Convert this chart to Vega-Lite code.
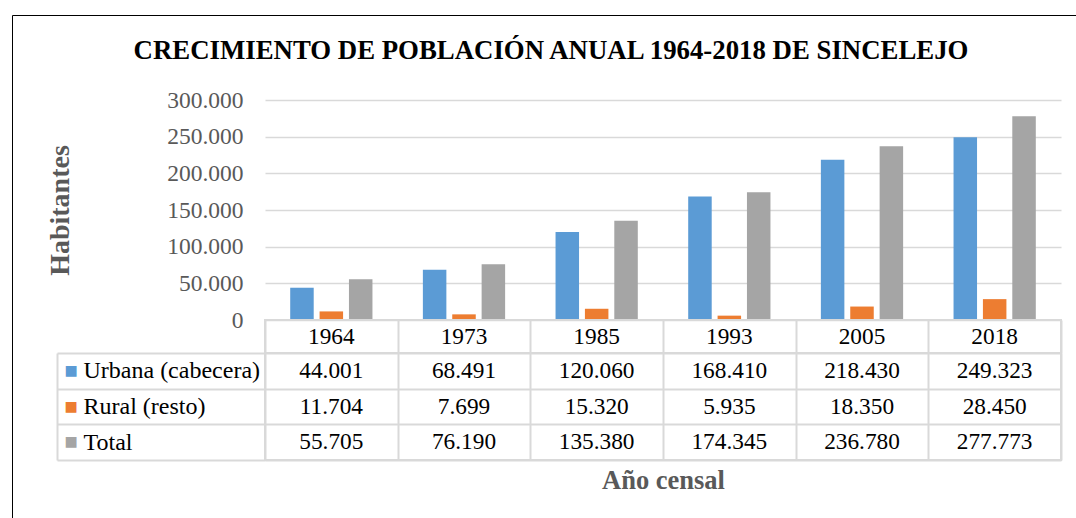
{
  "$schema": "https://vega.github.io/schema/vega-lite/v6.json",
  "datasets": {
    "d": [
      {"year": "1964", "serie": "Urbana (cabecera)", "value": 44001},
      {"year": "1964", "serie": "Rural (resto)", "value": 11704},
      {"year": "1964", "serie": "Total", "value": 55705},
      {"year": "1973", "serie": "Urbana (cabecera)", "value": 68491},
      {"year": "1973", "serie": "Rural (resto)", "value": 7699},
      {"year": "1973", "serie": "Total", "value": 76190},
      {"year": "1985", "serie": "Urbana (cabecera)", "value": 120060},
      {"year": "1985", "serie": "Rural (resto)", "value": 15320},
      {"year": "1985", "serie": "Total", "value": 135380},
      {"year": "1993", "serie": "Urbana (cabecera)", "value": 168410},
      {"year": "1993", "serie": "Rural (resto)", "value": 5935},
      {"year": "1993", "serie": "Total", "value": 174345},
      {"year": "2005", "serie": "Urbana (cabecera)", "value": 218430},
      {"year": "2005", "serie": "Rural (resto)", "value": 18350},
      {"year": "2005", "serie": "Total", "value": 236780},
      {"year": "2018", "serie": "Urbana (cabecera)", "value": 249323},
      {"year": "2018", "serie": "Rural (resto)", "value": 28450},
      {"year": "2018", "serie": "Total", "value": 277773}
    ]
  },
  "title": {
    "text": "CRECIMIENTO DE POBLACIÓN ANUAL 1964-2018 DE SINCELEJO",
    "font": "Liberation Serif",
    "fontSize": 26.8,
    "fontWeight": "bold",
    "color": "#000000",
    "anchor": "middle",
    "offset": -51.5,
    "dx": -111
  },
  "autosize": {"type": "none"},
  "padding": {"left": 265, "top": 100, "right": 811, "bottom": 418},
  "spacing": 0,
  "bounds": "flush",
  "resolve": {"scale": {"x": "independent", "y": "independent", "color": "independent"}, "legend": {"color": "independent"}},
  "config": {
    "locale": {"number": {"decimal": ",", "thousands": ".", "grouping": [3], "currency": ["$", ""]}},
    "font": "Liberation Serif",
    "view": {"stroke": null},
    "axis": {"labelFont": "Liberation Serif", "titleFont": "Liberation Serif"}
  },
  "vconcat": [
    {
      "width": 796,
      "height": 220,
      "data": {"name": "d"},
      "mark": {"type": "bar"},
      "encoding": {
        "x": {"field": "year", "type": "nominal", "scale": {"paddingInner": 0.38, "paddingOuter": 0.19}, "axis": null},
        "xOffset": {"field": "serie", "type": "nominal", "sort": ["Urbana (cabecera)", "Rural (resto)", "Total"], "scale": {"paddingInner": 0.2}},
        "y": {
          "field": "value", "type": "quantitative",
          "scale": {"domain": [0, 300000], "nice": false},
          "axis": {
            "values": [0, 50000, 100000, 150000, 200000, 250000, 300000],
            "format": ",d",
            "title": "Habitantes",
            "grid": true, "gridColor": "#d9d9d9", "gridWidth": 1.5,
            "domain": false, "ticks": false,
            "labelFontSize": 23.5, "labelColor": "#595959", "labelPadding": 22,
            "titleFontSize": 28, "titleFontWeight": "bold", "titleColor": "#595959", "titlePadding": 92
          }
        },
        "color": {
          "field": "serie", "type": "nominal",
          "scale": {"domain": ["Urbana (cabecera)", "Rural (resto)", "Total"], "range": ["#5B9BD5", "#ED7D31", "#A5A5A5"]},
          "legend": null
        }
      }
    },
    {
      "width": 796,
      "height": 33,
      "data": {"name": "d"},
      "transform": [{"filter": "datum.serie === 'Total'"}],
      "mark": {"type": "text", "fontSize": 23.3, "font": "Liberation Serif", "color": "#000000"},
      "encoding": {
        "x": {
          "field": "year", "type": "nominal",
          "scale": {"type": "band", "paddingInner": 0, "paddingOuter": 0},
          "axis": {"tickBand": "extent", "grid": true, "gridColor": "#d9d9d9", "gridWidth": 2, "labels": false, "ticks": false, "domain": false, "title": null}
        },
        "text": {"field": "year"}
      },
      "view": {"stroke": "#d9d9d9", "strokeWidth": 2}
    },
    {
      "width": 796,
      "height": 107,
      "data": {"name": "d"},
      "layer": [
        {
          "mark": {"type": "text", "fontSize": 23.3, "font": "Liberation Serif", "color": "#000000"},
          "encoding": {
            "x": {
              "field": "year", "type": "nominal",
              "scale": {"type": "band", "paddingInner": 0, "paddingOuter": 0},
              "axis": {"tickBand": "extent", "grid": true, "gridColor": "#d9d9d9", "gridWidth": 2, "labels": false, "ticks": false, "domain": false,
                "title": "Año censal", "titleFontSize": 26.5, "titleFontWeight": "bold", "titleColor": "#595959", "titlePadding": 7}
            },
            "y": {
              "field": "serie", "type": "nominal",
              "scale": {"type": "band", "domain": ["Urbana (cabecera)", "Rural (resto)", "Total"], "paddingInner": 0, "paddingOuter": 0},
              "axis": {"tickBand": "extent", "grid": true, "gridColor": "#d9d9d9", "gridWidth": 2,
                "ticks": true, "tickSize": 208, "tickColor": "#d9d9d9", "tickWidth": 2, "domain": false,
                "labelAlign": "left", "labelPadding": -26, "labelFontSize": 24, "labelColor": "#000000", "title": null}
            },
            "text": {"field": "value", "type": "quantitative", "format": ",d"}
          }
        },
        {
          "mark": {"type": "text", "opacity": 0},
          "encoding": {
            "y": {
              "field": "serie", "type": "nominal",
              "scale": {"type": "band", "domain": ["Urbana (cabecera)", "Rural (resto)", "Total"], "paddingInner": 0, "paddingOuter": 0},
              "axis": {"orient": "left", "offset": 208, "domain": true, "domainColor": "#d9d9d9", "domainWidth": 2,
                "ticks": false, "grid": false, "labelExpr": "'■'",
                "labelColor": {"condition": [{"test": "datum.value === 'Urbana (cabecera)'", "value": "#5B9BD5"}, {"test": "datum.value === 'Rural (resto)'", "value": "#ED7D31"}], "value": "#A5A5A5"},
                "labelAlign": "left", "labelPadding": -7, "labelFont": "DejaVu Sans", "labelFontSize": 14, "title": null}
            },
            "color": {
              "field": "value", "type": "quantitative",
              "legend": {
                "orient": "none", "legendX": -253, "legendY": -338, "title": null,
                "direction": "horizontal", "gradientLength": 1300, "gradientThickness": 700,
                "gradientOpacity": 0, "gradientStrokeWidth": 0, "labelExpr": "''", "labelFontSize": 1,
                "padding": 0, "strokeColor": "#000000"
              }
            },
            "text": {"field": "value", "type": "quantitative"}
          }
        }
      ],
      "resolve": {"axis": {"y": "independent"}},
      "view": {"stroke": "#d9d9d9", "strokeWidth": 2}
    }
  ]
}
